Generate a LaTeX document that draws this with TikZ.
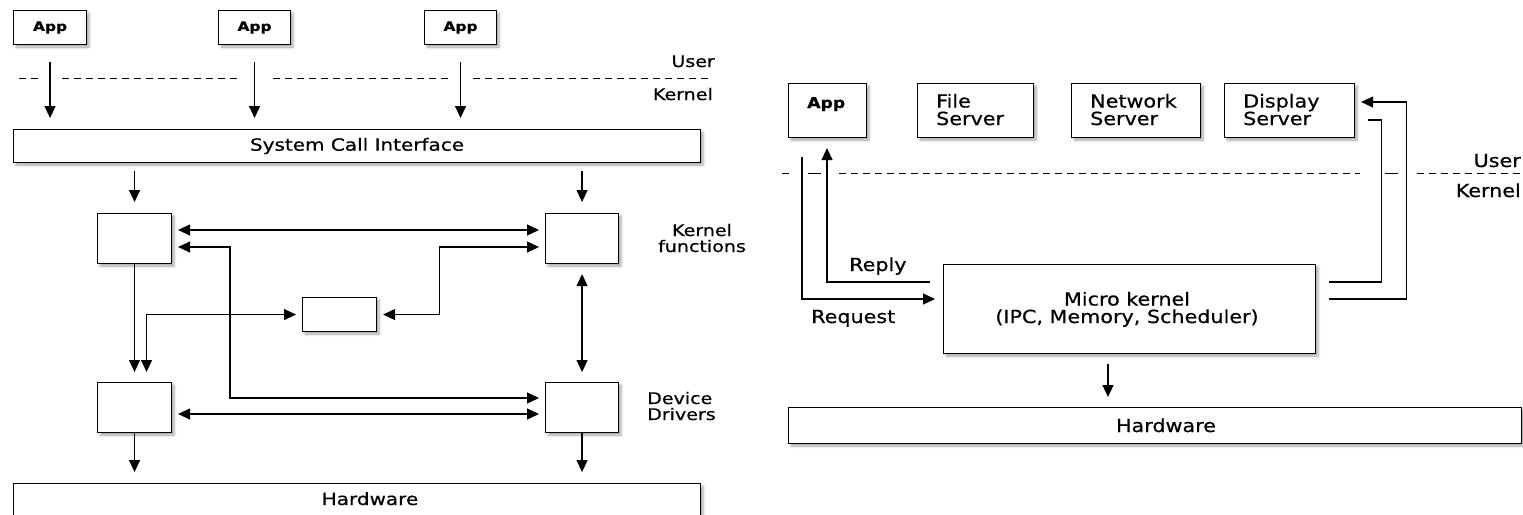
\documentclass[tikz,border=0pt]{standalone}
\usepackage{fontspec}
\setmainfont{DejaVu Sans}
\newfontfamily\lfont{DejaVu Sans}[FakeStretch=1.19,FakeBold=0.6]
\newfontfamily\rfont{DejaVu Sans}[FakeStretch=1.15,FakeBold=0.6]
\usetikzlibrary{arrows.meta,shadows.blur,calc}
\begin{document}
\begin{tikzpicture}[x=1pt,y=-1pt,
  box/.style={draw=black, line width=1.1pt, fill=white, inner sep=0pt, anchor=north west,
    blur shadow={shadow xshift=2.5pt, shadow yshift=-2.5pt, shadow blur radius=2.5pt, shadow opacity=35}},
  tip/.tip={Triangle[length=12pt,width=11pt]},
  conn/.style={line width=1.2pt, -tip},
  both/.style={line width=1.2pt, tip-tip},
  plain/.style={line width=1.2pt},
  sepline/.style={line width=1pt, dash pattern=on 6.5pt off 5.5pt},
  solidsep/.style={line width=1pt},
  ltxt/.style={font=\lfont\fontsize{16}{16}\selectfont, inner sep=0pt},
  lbig/.style={font=\lfont\fontsize{16.8}{16.8}\selectfont},
  lapp/.style={font=\lfont\bfseries\fontsize{13}{13}\selectfont},
  rtxt/.style={font=\rfont\fontsize{18}{17.5}\selectfont, inner sep=0pt},
  rapp/.style={font=\rfont\bfseries\fontsize{15}{15}\selectfont, inner sep=0pt},
]
\useasboundingbox (0,0) rectangle (1523,514);

% ---------------- monolithic kernel ----------------
\node[box, lapp, minimum width=73pt, minimum height=34pt] (app1) at (13,10) {App};
\node[box, lapp, minimum width=72pt, minimum height=34pt] (app2) at (218,10) {App};
\node[box, lapp, minimum width=72pt, minimum height=34pt] (app3) at (424,10) {App};

\node[box, lbig, minimum width=687pt, minimum height=33pt] (sci) at (13,129) {System Call Interface};

\node[box, minimum width=74pt, minimum height=50pt] (kfL) at (97,213) {};
\node[box, minimum width=73pt, minimum height=50pt] (kfR) at (545,213) {};
\node[box, minimum width=74pt, minimum height=34pt] (sm) at (302,297) {};
\node[box, minimum width=74pt, minimum height=50pt] (ddL) at (97,382) {};
\node[box, minimum width=73pt, minimum height=50pt] (ddR) at (545,382) {};

\node[box, minimum width=687pt, minimum height=33pt] (hwL) at (13,483) {};
\node[lbig, inner sep=0pt, anchor=base] (hwLtxt) at ($(hwL.north west)+(357,22)$) {Hardware};

% user / kernel boundary
\draw[sepline] (19,78) -- (38,78);
\draw[sepline] (62,78) -- (240,78);
\draw[sepline] (273,78) -- (452,78);
\draw[sepline] (473,78) -- (710,78);
\node[ltxt, anchor=base east] (userL) at (715,67) {User};
\node[ltxt, anchor=base east] (kernL) at (713,100) {Kernel};

% multi-line labels are anchored on the baseline of their last line
\node[ltxt, align=center, anchor=base] (kfun) at (702,252) {Kernel\\functions};
\node[ltxt, align=left, anchor=base west] (ddlab) at (647,420) {Device\\Drivers};

% system calls
\foreach \a in {app1,app2,app3}
  \draw[conn, shorten <=17pt, shorten >=11pt] (\a.south) -- (\a.south |- sci.north);
\draw[conn, shorten <=8pt, shorten >=11pt] (sci.south -| kfL.north) -- (kfL.north);
\draw[conn, shorten <=8pt, shorten >=11pt] (sci.south -| kfR.north) -- (kfR.north);

% kernel internals
\draw[both, shorten <=6pt, shorten >=6pt] ($(kfL.north east)+(0,17)$) -- ($(kfR.north west)+(0,17)$);
\draw[both, shorten <=6pt, shorten >=6pt] ($(kfL.north east)+(0,34)$) -| ($(ddR.north west)+(-315,16)$) -- ($(ddR.north west)+(0,16)$);
\draw[both, shorten <=6pt, shorten >=6pt] ($(kfR.north west)+(0,34)$) -| ($(sm.east)+(62,0)$) -- (sm.east);
\draw[both, shorten <=6pt, shorten >=10pt] (sm.west) -| ($(ddL.north)+(12,0)$);
\draw[conn, shorten >=10pt] (kfL.south) -- (ddL.north);
\draw[both, shorten <=10pt, shorten >=10pt] (kfR.south) -- (ddR.north);
\draw[both, shorten <=6pt, shorten >=6pt] ($(ddL.north east)+(0,32)$) -- ($(ddR.north west)+(0,32)$);
\draw[conn, shorten >=11pt] (ddL.south) -- (ddL.south |- hwL.north);
\draw[conn, shorten >=11pt] (ddR.south) -- (ddR.south |- hwL.north);

% ---------------- micro kernel ----------------
\node[box, minimum width=78pt, minimum height=54pt] (appR) at (788,83) {};
\node[box, minimum width=116pt, minimum height=54pt] (fs) at (917,83) {};
\node[box, minimum width=129pt, minimum height=54pt] (ns) at (1071,83) {};
\node[box, minimum width=130pt, minimum height=54pt] (ds) at (1224,83) {};
\node[rapp, anchor=base west] (appRtxt) at ($(appR.north west)+(19,25)$) {App};
\node[rtxt, align=left, anchor=base west] (fsT) at ($(fs.north west)+(19,42)$) {File\\Server};
\node[rtxt, align=left, anchor=base west] (nsT) at ($(ns.north west)+(19,42)$) {Network\\Server};
\node[rtxt, align=left, anchor=base west] (dsT) at ($(ds.north west)+(19,42)$) {Display\\Server};

\node[box, minimum width=372pt, minimum height=89pt] (mk) at (943,264) {};
\node[rtxt, align=center, anchor=base] (mkT) at ($(mk.north west)+(184,59)$) {Micro kernel\\(IPC, Memory, Scheduler)};

\node[box, minimum width=733pt, minimum height=36pt] (hwR) at (788,407) {};
\node[rtxt, anchor=base] (hwRtxt) at ($(hwR.north west)+(378,25)$) {Hardware};

% user / kernel boundary
\draw[sepline] (782,173) -- (791,173);
\draw[solidsep] (808,173) -- (821,173);
\draw[sepline] (839,173) -- (1360,173);
\draw[solidsep] (1385,173) -- (1398,173);
\draw[sepline] (1417,173) -- (1523,173);
\node[rtxt, anchor=base east] (userR) at (1521,167) {User};
\node[rtxt, anchor=base east] (kernR) at (1521,197) {Kernel};

% message passing
\draw[conn, shorten >=8pt] ($(appR.south west)+(14,19)$) |- ($(mk.north west)+(0,35)$);
\draw[conn, shorten <=13pt, shorten >=10pt] ($(mk.north west)+(0,18)$) -| ($(appR.south west)+(39,0)$);
\node[rtxt, anchor=base west] (reply) at (849,271) {Reply};
\node[rtxt, anchor=base west] (request) at (811,323) {Request};

\draw[plain, shorten <=13pt, shorten >=13pt] ($(mk.north east)+(0,18)$) -| ($(ds.north east)+(26,37)$) -- ($(ds.north east)+(0,37)$);
\draw[conn, shorten <=13pt, shorten >=6pt] ($(mk.north east)+(0,35)$) -| ($(ds.north east)+(51,19)$) -- ($(ds.north east)+(0,19)$);

\coordinate (mkout) at ($(mk.south west)+(165,0)$);
\draw[conn, shorten <=10pt, shorten >=10pt] (mkout) -- (mkout |- hwR.north);
\end{tikzpicture}
\end{document}
